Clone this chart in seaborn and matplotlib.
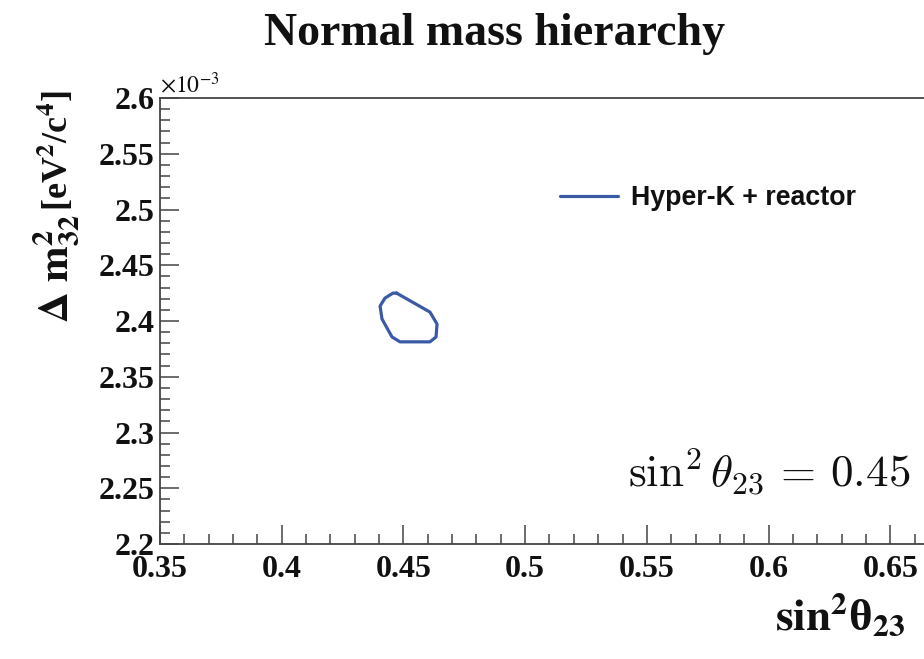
import matplotlib
matplotlib.use("Agg")
import matplotlib.pyplot as plt
import seaborn as sns
import pandas as pd
from matplotlib.ticker import MultipleLocator

# ---- data (Delta m^2_32 in units of 1e-3 eV^2/c^4) ----
contour_sin2 = [0.4472, 0.4609, 0.4638, 0.4634, 0.4609, 0.4486, 0.4453,
                0.4412, 0.4404, 0.4424, 0.4457, 0.4472]
contour_dm2 = [2.425, 2.408, 2.3973, 2.3857, 2.3813, 2.3813, 2.3857,
               2.4018, 2.4134, 2.4205, 2.425, 2.425]
series_name = "Hyper-K + reactor"
x_ticks = [0.35, 0.40, 0.45, 0.50, 0.55, 0.60, 0.65]
y_ticks = [2.2, 2.25, 2.3, 2.35, 2.4, 2.45, 2.5, 2.55, 2.6]

df = pd.DataFrame({"sin2": contour_sin2, "dm2": contour_dm2,
                   "series": [series_name] * len(contour_sin2)})

sns.set_style("ticks")
plt.rcParams["font.family"] = ["Liberation Serif", "DejaVu Serif"]
plt.rcParams["mathtext.fontset"] = "stix"

W, H = 924, 659
fig = plt.figure(figsize=(W / 100, H / 100), dpi=100)
ax_left, ax_bottom = 160 / W, (H - 544) / H
ax_w, ax_h = 852 / W, 446 / H
ax = fig.add_axes([ax_left, ax_bottom, ax_w, ax_h])

line_color = "#3a5aa6"
sns.lineplot(data=df, x="sin2", y="dm2", hue="series", sort=False,
             estimator=None, palette=[line_color], linewidth=2.3, ax=ax)

ax.set_xlim(0.35, 0.70)
ax.set_ylim(2.2, 2.6)
ax.set_xticks(x_ticks)
ax.set_yticks(y_ticks)
ax.xaxis.set_minor_locator(MultipleLocator(0.01))
ax.yaxis.set_minor_locator(MultipleLocator(0.01))
ax.set_xticklabels([("%g" % v) for v in x_ticks])
ax.set_yticklabels([("%g" % v) for v in y_ticks])

spine_col = "#444444"
for s in ax.spines.values():
    s.set_color(spine_col)
    s.set_linewidth(1.3)
ax.tick_params(which="both", direction="in", color=spine_col, width=1.1,
               top=False, right=False)
ax.tick_params(which="major", length=14)
ax.tick_params(which="minor", length=7)
ax.tick_params(axis="y", which="major", pad=4)
ax.tick_params(axis="x", which="major", pad=8)
for lab in ax.get_xticklabels() + ax.get_yticklabels():
    lab.set_fontweight("bold")
    lab.set_fontsize(23)
    lab.set_color("#111111")

ax.set_xlabel("")
ax.set_ylabel("")

# legend
leg = ax.legend(loc="center left", bbox_to_anchor=(560 / W, 1 - 198 / H),
                bbox_transform=fig.transFigure, frameon=False,
                handlelength=2.15, handletextpad=0.5, borderpad=0,
                borderaxespad=0, prop={"family": "Liberation Sans",
                                       "weight": "bold", "size": 19.3})
for t in leg.get_texts():
    t.set_color("#111111")

# title
fig.text(495 / W, 1 - 45 / H, "Normal mass hierarchy", ha="center",
         va="baseline", fontsize=33, fontweight="bold", color="#111111")

# exponent marker
fig.text(160 / W, 1 - 93 / H, r"$\times10^{-3}$", ha="left", va="baseline",
         fontsize=17, color="#111111")

# y label (two parts)
fig.text(68 / W, 1 - 323 / H, r"$\mathbf{\Delta\ m^{2}_{32}}$",
         rotation=90, ha="left", va="baseline", fontsize=31, color="#111111",
         rotation_mode="anchor")
fig.text(68 / W, 1 - 211 / H, r"[eV$^{\mathbf{2}}$/c$^{\mathbf{4}}$]",
         rotation=90, ha="left", va="baseline", fontsize=26, fontweight="bold",
         color="#111111", rotation_mode="anchor")

# x label
fig.text(775 / W, 1 - 630 / H, r"$\mathbf{sin^{2}}$θ$_{\mathbf{23}}$",
         ha="left", va="baseline", fontsize=32.5, fontweight="bold",
         color="#111111")

# annotation
ax.text(628 / W, 1 - 487 / H, r"$\sin^2\theta_{23}\,=\,0.45$",
        transform=fig.transFigure, ha="left", va="baseline", fontsize=32.5,
        math_fontfamily="cm", color="#111111")

fig.savefig("out.png", dpi=100)
